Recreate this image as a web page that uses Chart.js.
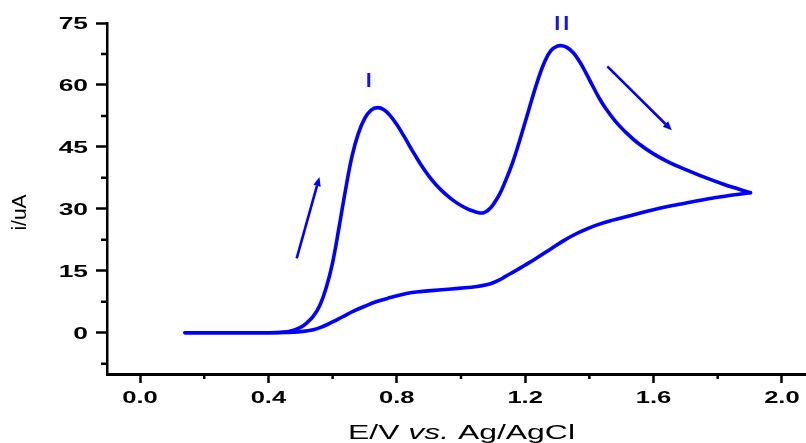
<!DOCTYPE html>
<html><head><meta charset="utf-8">
<script src="https://cdn.jsdelivr.net/npm/chart.js@4.4.1/dist/chart.umd.min.js"></script>
<style>html,body{margin:0;padding:0;background:#fff;}#wrap{width:806px;height:443px;position:relative;}</style>
</head><body><div id="wrap"><canvas id="c"></canvas></div>
<script>
// Forward (anodic) scan: potential (V) and current (uA)
const fwdE = [0.14,0.30,0.40,0.44,0.47,0.50,0.52,0.54,0.56,0.58,0.60,0.62,0.64,0.66,0.68,0.70,0.72,0.74,0.76,0.78,0.80,0.82,0.84,0.86,0.88,0.90,0.92,0.94,0.96,0.98,1.00,1.02,1.04,1.06,1.07,1.08,1.09,1.10,1.12,1.14,1.16,1.18,1.20,1.22,1.24,1.26,1.28,1.30,1.315,1.33,1.35,1.37,1.39,1.41,1.43,1.45,1.48,1.51,1.55,1.60,1.65,1.70,1.76,1.82,1.86,1.902];
const fwdI = [0,0,0,0.1,0.4,1.3,2.4,4.0,6.6,10.9,17.0,25.5,34.5,42.6,48.2,51.9,53.9,54.5,54.0,52.5,50.4,47.9,45.2,42.6,40.1,37.9,36.0,34.4,33.0,31.8,30.8,30.0,29.4,29.0,29.05,29.4,30.05,31.0,33.5,37.0,41.0,45.8,51.0,56.3,61.3,65.5,68.3,69.4,69.5,69.1,67.8,65.6,62.8,59.8,56.9,54.4,51.3,48.8,46.0,43.3,41.2,39.5,37.6,35.9,34.9,33.9];
// Reverse (cathodic) scan
const revE = [1.902,1.79,1.68,1.60,1.53,1.47,1.42,1.38,1.35,1.32,1.29,1.26,1.23,1.20,1.17,1.14,1.12,1.10,1.08,1.05,1.00,0.94,0.88,0.83,0.78,0.74,0.70,0.665,0.63,0.60,0.57,0.54,0.50,0.45,0.40,0.30,0.14];
const revI = [33.9,32.7,31.1,29.8,28.4,27.2,26.0,24.7,23.6,22.3,20.8,19.3,17.8,16.4,15.0,13.7,12.8,12.1,11.6,11.2,10.8,10.4,10.0,9.5,8.5,7.6,6.4,5.2,3.8,2.6,1.5,0.7,0.25,0.05,0,0,0];

const xTickValues = [0,0.4,0.8,1.2,1.6,2.0];
const xTickLabels = ['0.0','0.4','0.8','1.2','1.6','2.0'];
const xMinorTicks = [0.2,0.6,1.0,1.4,1.8];
const yTickValues = [0,15,30,45,60,75];
const yTickLabels = ['0','15','30','45','60','75'];
const yMinorTicks = [-7.5,7.5,22.5,37.5,52.5,67.5];

const peakLabels = ['I','II'];
const peakLabelE = [0.7125,1.3137];
const peakLabelI = [59.5,73.2];

const arrowTailE = [0.488,1.456];
const arrowTailI = [18.0,64.5];
const arrowTipE = [0.559,1.657];
const arrowTipI = [37.7,49.0];

const xTitleParts = ['E/V ','vs.',' Ag/AgCl'];
const yTitle = 'i/uA';

const FONT = '"Liberation Sans", Arial, Helvetica, sans-serif';
const BLUE = '#0000ff';

function stretchText(ctx, txt, x, y, sx, align){
  ctx.save(); ctx.translate(x, y); ctx.scale(sx, 1);
  ctx.textAlign = align; ctx.fillText(txt, 0, 0); ctx.restore();
}
function arrow(ctx, x1, y1, x2, y2){
  const a = Math.atan2(y2 - y1, x2 - x1), hl = 9, hw = 3.8;
  const bx = x2 - hl*Math.cos(a), by = y2 - hl*Math.sin(a);
  ctx.beginPath(); ctx.moveTo(x1, y1); ctx.lineTo(bx, by); ctx.stroke();
  ctx.beginPath(); ctx.moveTo(x2, y2);
  ctx.lineTo(bx - hw*Math.sin(a), by + hw*Math.cos(a));
  ctx.lineTo(bx + hw*Math.sin(a), by - hw*Math.cos(a));
  ctx.closePath(); ctx.fill();
}

const deco = {
  id: 'deco',
  afterDraw(chart){
    const {ctx, scales:{x, y}, chartArea} = chart;
    ctx.save();
    // minor ticks
    ctx.strokeStyle = '#000'; ctx.lineWidth = 2.5;
    ctx.beginPath();
    yMinorTicks.forEach(v => { const py = y.getPixelForValue(v); ctx.moveTo(chartArea.left - 6, py); ctx.lineTo(chartArea.left, py); });
    xMinorTicks.forEach(v => { const px = x.getPixelForValue(v); ctx.moveTo(px, chartArea.bottom); ctx.lineTo(px, chartArea.bottom + 5); });
    ctx.stroke();
    // tick labels
    ctx.fillStyle = '#000';
    ctx.font = 'bold 16px ' + FONT;
    ctx.textBaseline = 'alphabetic';
    yTickValues.forEach((v, i) => stretchText(ctx, yTickLabels[i], 88, y.getPixelForValue(v) + 5.8, 1.65, 'right'));
    xTickValues.forEach((v, i) => stretchText(ctx, xTickLabels[i], x.getPixelForValue(v), 403, 1.6, 'center'));
    // x title
    const styles = ['normal','italic','normal'];
    let w = 0; const ws = [];
    xTitleParts.forEach((t, i) => { ctx.font = styles[i] + ' 21px ' + FONT; const m = ctx.measureText(t).width; ws.push(m); w += m; });
    const target = 227, s = target / w;
    let cx = 461.5 - target/2;
    xTitleParts.forEach((t, i) => { ctx.font = styles[i] + ' 21px ' + FONT; stretchText(ctx, t, cx, 438.5, s, 'left'); cx += ws[i]*s; });
    // y title
    ctx.save(); ctx.translate(25.5, 212.5); ctx.rotate(-Math.PI/2);
    ctx.font = '21px ' + FONT; ctx.textAlign = 'center'; ctx.fillText(yTitle, 0, 0); ctx.restore();
    // peak labels
    ctx.fillStyle = '#1414e6';
    ctx.font = '21px ' + FONT;
    peakLabels.forEach((t, i) => stretchText(ctx, t, x.getPixelForValue(peakLabelE[i]), y.getPixelForValue(peakLabelI[i]), 1.55, 'center'));
    // arrows
    ctx.strokeStyle = BLUE; ctx.fillStyle = BLUE; ctx.lineWidth = 2.6; ctx.lineCap = 'butt';
    arrowTailE.forEach((e, i) => arrow(ctx, x.getPixelForValue(e), y.getPixelForValue(arrowTailI[i]), x.getPixelForValue(arrowTipE[i]), y.getPixelForValue(arrowTipI[i])));
    ctx.restore();
  }
};

const mk = (E, I) => E.map((e, i) => ({x: e, y: I[i]}));
const dsBase = {showLine: true, borderColor: BLUE, borderWidth: 3.6, pointRadius: 0, fill: false, tension: 0.4, borderJoinStyle: 'round', borderCapStyle: 'round'};

new Chart(document.getElementById('c'), {
  type: 'scatter',
  data: {datasets: [
    Object.assign({label: 'forward', data: mk(fwdE, fwdI)}, dsBase),
    Object.assign({label: 'reverse', data: mk(revE, revI)}, dsBase)
  ]},
  options: {
    responsive: true, maintainAspectRatio: false, animation: false, devicePixelRatio: 1,
    layout: {padding: {top: 23, left: 0, right: 0, bottom: 0}},
    plugins: {legend: {display: false}, tooltip: {enabled: false}},
    scales: {
      x: {type: 'linear', position: 'bottom', min: -0.103, max: 2.075,
        afterBuildTicks: s => { s.ticks = xTickValues.map(v => ({value: v})); },
        afterFit: s => { s.height = 69; },
        ticks: {display: false},
        grid: {display: true, drawOnChartArea: false, drawTicks: true, tickLength: 9, tickWidth: 2.5, tickColor: '#000', color: '#000'},
        border: {display: true, color: '#000', width: 3}
      },
      y: {type: 'linear', position: 'left', min: -10, max: 75,
        afterBuildTicks: s => { s.ticks = yTickValues.map(v => ({value: v})); },
        afterFit: s => { s.width = 107; },
        ticks: {display: false},
        grid: {display: true, drawOnChartArea: false, drawTicks: true, tickLength: 11, tickWidth: 2.5, tickColor: '#000', color: '#000'},
        border: {display: true, color: '#000', width: 2.5}
      }
    }
  },
  plugins: [deco]
});
</script></body></html>
